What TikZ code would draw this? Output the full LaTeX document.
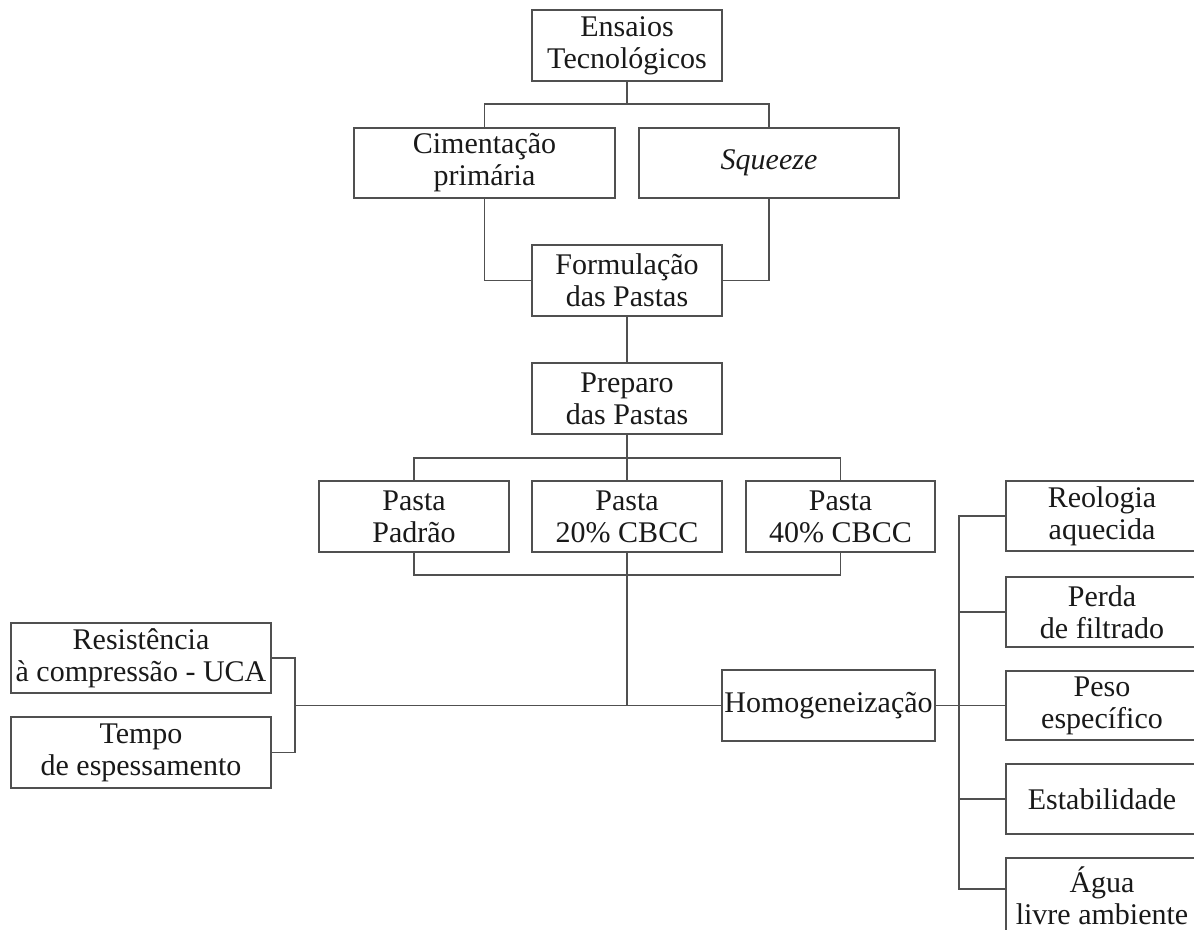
\documentclass[tikz,border=0pt]{standalone}
\usepackage{fontspec}
\setmainfont{Liberation Serif}
\definecolor{lnc}{RGB}{80,80,80}
\definecolor{txc}{RGB}{25,25,25}
\tikzset{
  box/.style={draw=lnc, line width=1.5pt, rectangle, inner sep=0pt, align=center,
    text=txc, font=\fontsize{30}{32}\selectfont, minimum height=70pt},
  conn/.style={draw=lnc, line width=1.5pt}
}
\begin{document}
\begin{tikzpicture}[x=1pt,y=-1pt]
\useasboundingbox (0,0) rectangle (1194,929);
\clip (0,0) rectangle (1194,929);
% boxes
\node[box, minimum width=190pt, minimum height=71pt] (ens) at (627,45.5) {Ensaios\\Tecnológicos};
\node[box, minimum width=261pt] (cim) at (484.5,163) {Cimentação\\primária};
\node[box, minimum width=260pt] (sqz) at (769,163) {\textit{Squeeze}};
\node[box, minimum width=190pt, minimum height=71pt] (form) at (627,280.5) {Formulação\\das Pastas};
\node[box, minimum width=190pt, minimum height=71pt] (prep) at (627,398.5) {Preparo\\das Pastas};
\node[box, minimum width=190pt, minimum height=71pt] (padrao) at (414,516.5) {Pasta\\Padrão};
\node[box, minimum width=190pt, minimum height=71pt] (p20) at (627,516.5) {Pasta\\20\% CBCC};
\node[box, minimum width=189pt, minimum height=71pt] (p40) at (840.5,516.5) {Pasta\\40\% CBCC};
\node[box, minimum width=213pt, minimum height=71pt] (homog) at (828.5,705.5) {Homogeneização};
\node[box, minimum width=260pt] (resist) at (141,658) {Resistência\\à compressão - UCA};
\node[box, minimum width=260pt, minimum height=71pt] (tempo) at (141,752.5) {Tempo\\de espessamento};
\node[box, minimum width=192pt] (reo) at (1102,516) {Reologia\\aquecida};
\node[box, minimum width=192pt] (perda) at (1102,612) {Perda\\de filtrado};
\node[box, minimum width=192pt, minimum height=69pt] (peso) at (1102,705.5) {Peso\\específico};
\node[box, minimum width=192pt] (estab) at (1102,799) {Estabilidade};
\node[box, minimum width=192pt, minimum height=76pt] (agua) at (1102,896) {Água\\livre ambiente};
% junction coordinates
\coordinate (t1) at (627,104);
\coordinate (t2) at (627,458);
\coordinate (t3) at (627,575);
\coordinate (lb) at (295,705.5);
\coordinate (rb) at (959,705.5);
% connectors
\draw[conn] (ens.south) -- (t1);
\draw[conn] (cim.north) |- (t1) -| (sqz.north);
\draw[conn] (cim.south) |- (form.west);
\draw[conn] (sqz.south) |- (form.east);
\draw[conn] (form.south) -- (prep.north);
\draw[conn] (prep.south) -- (p20.north);
\draw[conn] (padrao.north) |- (t2) -| (p40.north);
\draw[conn] (padrao.south) |- (t3) -| (p40.south);
\draw[conn] (p20.south) -- (p20.south |- lb);
\draw[conn] (lb) -- (homog.west);
\draw[conn] (resist.east) -| (lb) |- (tempo.east);
\draw[conn] (homog.east) -- (peso.west);
\draw[conn] (reo.west) -| (rb) |- ([yshift=7pt]agua.west);
\draw[conn] (perda.west) -- (perda.west -| rb);
\draw[conn] (estab.west) -- (estab.west -| rb);
\end{tikzpicture}
\end{document}
